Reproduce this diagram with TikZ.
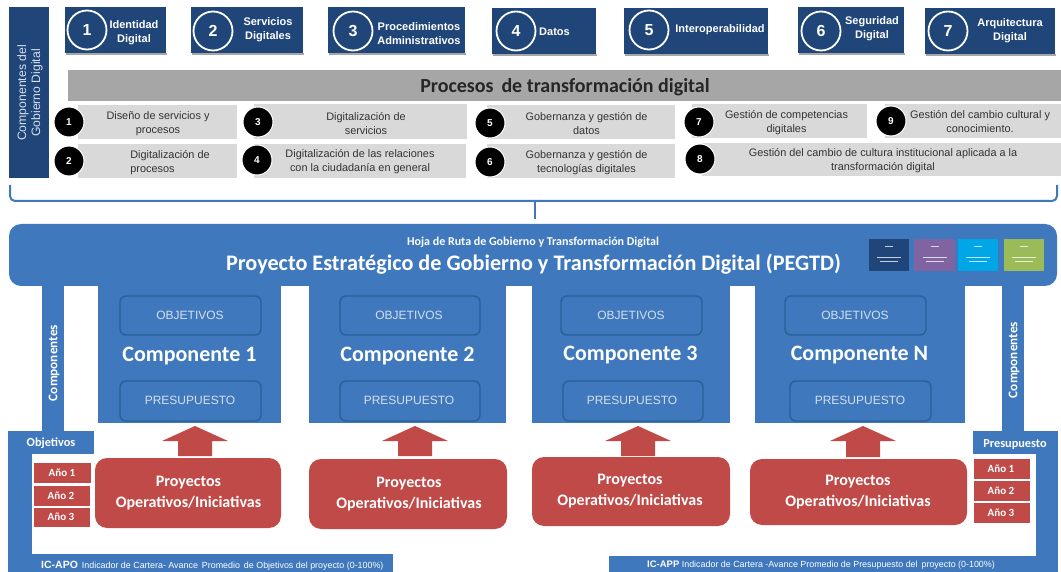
\documentclass[tikz,border=0pt]{standalone}
\usepackage{fontspec}
\setmainfont{Liberation Sans}
\newfontfamily\calfont{Carlito}
\definecolor{navy}{HTML}{1F4579}
\definecolor{midb}{HTML}{3F78BC}
\definecolor{edgeb}{HTML}{2C5F9A}
\definecolor{redb}{HTML}{BF4A47}
\definecolor{lgray}{HTML}{D9D9D9}
\definecolor{mgray}{HTML}{A6A6A6}
\definecolor{paleb}{HTML}{D5E0EE}
\definecolor{cardp}{HTML}{8064A2}
\definecolor{cardc}{HTML}{00A6E6}
\definecolor{cardg}{HTML}{9BBB59}
\tikzset{
 x=1pt,y=-1pt,
 ring/.style={circle,draw=white,line width=1.8pt,fill=navy,minimum size=39pt,inner sep=0pt,text=white,font=\fontsize{16}{16}\selectfont\bfseries},
 toplab/.style={text=white,font=\fontsize{11}{14}\selectfont\bfseries,align=center,inner sep=0pt},
 rowlab/.style={text=black!80,font=\fontsize{10.9}{14}\selectfont,align=center,inner sep=0pt},
 dotnode/.style={circle,fill=black,draw=white,line width=1pt,minimum size=30pt,inner sep=0pt,text=white,font=\fontsize{10}{10}\selectfont\bfseries},
 innerbox/.style={fill=midb,draw=edgeb,line width=1.4pt,rounded corners=6pt},
 innerlab/.style={text=paleb,font=\fontsize{12}{12}\selectfont,inner sep=0pt},
 comp/.style={text=white,font=\calfont\fontsize{22}{22}\selectfont\bfseries,inner sep=0pt},
 proj/.style={fill=redb,draw=none,rounded corners=12pt},
 projlab/.style={text=white,font=\calfont\fontsize{16}{21}\selectfont\bfseries,align=center,inner sep=0pt},
 yearlab/.style={text=white,font=\calfont\fontsize{11}{11}\selectfont\bfseries,inner sep=0pt},
 sidelab/.style={text=white,font=\calfont\fontsize{12.3}{12.3}\selectfont\bfseries,inner sep=0pt},
 vertlab/.style={text=white,rotate=90,font=\calfont\fontsize{13.2}{13.2}\selectfont\bfseries,inner sep=0pt},
 indlab/.style={text=white,font=\fontsize{8.9}{8.9}\selectfont,inner sep=0pt,anchor=west},
 minline/.style={white,opacity=.75,line width=.6pt},
}
\newcommand{\upar}[2]{\fill[redb] (#1,426) -- (#1+33,441) -- (#1+17,441) -- (#1+17,#2) -- (#1-17,#2) -- (#1-17,441) -- (#1-33,441) -- cycle;}
\begin{document}
\begin{tikzpicture}
\useasboundingbox (0,0) rectangle (1061,572);
% left header
\fill[navy] (9,7) rectangle (49,178);
\node[rotate=90,text=paleb,font=\fontsize{12.2}{14}\selectfont,align=center,inner sep=0pt] (hdr) at (30,93) {Componentes del\\Gobierno Digital};
% top boxes
\foreach \a/\b/\c/\d in {65/7/166/53,191/7/303/53,328/7/465/53,492/8/596/54,624/8/768/54,798/7/904/53,925/8/1055/54}{
 \fill[black!35] (\a+1,\d) rectangle (\c+1,\d+2);
 \fill[navy] (\a,\b) rectangle (\c,\d);
}
\node[ring] (c1) at (87,30) {1};
\node[ring] (c2) at (213,31) {2};
\node[ring] (c3) at (353,31) {3};
\node[ring] (c4) at (516,31) {4};
\node[ring] (c5) at (649,30) {5};
\node[ring] (c6) at (821,31) {6};
\node[ring] (c7) at (948,31) {7};
\node[toplab] (t1) at (134,33) {Identidad\\Digital};
\node[toplab] (t2) at (268,30) {Servicios\\Digitales};
\node[toplab] (t3) at (419,33.5) {Procedimientos\\Administrativos};
\node[toplab] (t4) at (554.5,32) {Datos};
\node[toplab] (t5) at (720,30) {Interoperabilidad};
\node[toplab] (t6) at (872,29) {Seguridad\\Digital};
\node[toplab] (t7) at (1010,31) {Arquitectura\\Digital};
% process bar
\fill[mgray] (68,70) rectangle (1061,101);
\node[text=black!85,font=\calfont\fontsize{20}{20}\selectfont\bfseries,inner sep=0pt] (ptitle) at (565,87) {Procesos\, de transformación digital};
\fill[lgray] (78,105) rectangle (237,139);
\fill[lgray] (254,104) rectangle (467,139);
\fill[lgray] (487,105) rectangle (675,139);
\fill[lgray] (692,104) rectangle (867,138);
\fill[lgray] (885,104) rectangle (1061,138);
\fill[lgray] (78,144) rectangle (237,178);
\fill[lgray] (254,144) rectangle (466,178);
\fill[lgray] (487,144) rectangle (675,178);
\fill[lgray] (702,143) rectangle (1061,176);
\node[dotnode] (d1) at (69,122) {1};
\node[dotnode] (d2) at (69,161) {2};
\node[dotnode] (d3) at (258,122) {3};
\node[dotnode] (d4) at (257,160) {4};
\node[dotnode] (d5) at (490,123) {5};
\node[dotnode] (d6) at (490,162) {6};
\node[dotnode] (d7) at (699,122) {7};
\node[dotnode] (d8) at (700,159) {8};
\node[dotnode] (d9) at (891,121) {9};
\node[rowlab] (r1) at (158,124) {Diseño de servicios y\\procesos};
\node[rowlab,align=left] (r2) at (170,163) {Digitalización de\\procesos};
\node[rowlab] (r3) at (366,123.5) {Digitalización de\\servicios};
\node[rowlab] (r4) at (360,162) {Digitalización de las relaciones\\con la ciudadanía en general};
\node[rowlab] (r5) at (586.5,124) {Gobernanza y gestión de\\datos};
\node[rowlab] (r6) at (586.5,163) {Gobernanza y gestión de\\tecnologías digitales};
\node[rowlab] (r7) at (786.5,123) {Gestión de competencias\\digitales};
\node[rowlab] (r8) at (883,161) {Gestión del cambio de cultura institucional aplicada a la\\transformación digital};
\node[rowlab] (r9) at (980,122) {Gestión del cambio cultural y\\conocimiento.};
% brace
\coordinate (bl) at (10,185);
\coordinate (br) at (1057,185);
\coordinate (bm) at (535,219);
\draw[midb,line width=2pt,rounded corners=5pt] (bl) -- (10,201) -- (1057,201) -- (br);
\draw[midb,line width=2pt] (535,201) -- (bm);
% main band and columns
\fill[midb] (42,280) rectangle (64,431);
\fill[midb] (1002,280) rectangle (1024,431);
\fill[midb] (98,280) rectangle (281,423);
\fill[midb] (309,280) rectangle (506,423);
\fill[midb] (532,280) rectangle (730,423);
\fill[midb] (755,280) rectangle (965,423);
\fill[midb,rounded corners=12pt] (9,224) rectangle (1057,286);
\node[text=white,font=\calfont\fontsize{12}{12}\selectfont\bfseries,inner sep=0pt] (hoja) at (533,242) {Hoja de Ruta de Gobierno y Transformación Digital};
\node[text=white,font=\calfont\fontsize{22.2}{22.2}\selectfont\bfseries,inner sep=0pt] (pegtd) at (533.5,264) {Proyecto Estratégico de Gobierno y Transformación Digital (PEGTD)};
% mini cards
\fill[navy] (869,239) rectangle (909,271);
\fill[cardp] (914,239) rectangle (955,271);
\fill[cardc] (958,239) rectangle (998,271);
\fill[cardg] (1004,239) rectangle (1044,271);
\foreach \cx in {889,934.5,978,1024}{
 \draw[minline] (\cx-4,246) -- (\cx+4,246);
 \draw[minline] (\cx-12,257) -- (\cx+12,257);
 \draw[minline] (\cx-9,261) -- (\cx+9,261);
}
% inner boxes
\draw[innerbox] (120,296) rectangle (261,335);
\draw[innerbox] (340,296) rectangle (480,335);
\draw[innerbox] (561,296) rectangle (702,335);
\draw[innerbox] (785,296) rectangle (926,335);
\draw[innerbox] (120,381) rectangle (261,421);
\draw[innerbox] (340,381) rectangle (480,421);
\draw[innerbox] (563,381) rectangle (703,421);
\draw[innerbox] (790,381) rectangle (931,421);
\foreach \n/\x in {a/190,b/409,c/631,d/855}{\node[innerlab] (o\n) at (\x,315) {OBJETIVOS};}
\foreach \n/\x in {a/190,b/409,c/632,d/860}{\node[innerlab] (p\n) at (\x,400) {PRESUPUESTO};}
\node[comp] (k1) at (189.5,356) {Componente 1};
\node[comp] (k2) at (407.5,356) {Componente 2};
\node[comp] (k3) at (630.5,355) {Componente 3};
\node[comp] (k4) at (859.5,355.5) {Componente N};
\node[vertlab] (sl) at (54,363) {Componentes};
\node[vertlab] (sr) at (1014,360) {Componentes};
% side frames
\fill[midb] (8,431) rectangle (94,454);
\fill[midb] (8,454) rectangle (32,572);
\fill[midb] (8,554) rectangle (393,572);
\fill[midb] (973,431) rectangle (1058,454);
\fill[midb] (1036,454) rectangle (1058,572);
\fill[midb] (609,556) rectangle (1058,572);
\node[sidelab] (ob) at (51,443) {Objetivos};
\node[sidelab] (pr) at (1015,444) {Presupuesto};
% arrows
\upar{195}{456}
\upar{415}{456}
\upar{638}{456}
\upar{863}{457}
% red
\fill[proj] (95,458) rectangle (281,528);
\fill[proj] (309,459) rectangle (507,529);
\fill[proj] (532,457) rectangle (730,526);
\fill[proj] (750,459) rectangle (967,525);
\node[projlab] (j1) at (188.5,493.5) {Proyectos\\Operativos/Iniciativas};
\node[projlab] (j2) at (409,494) {Proyectos\\Operativos/Iniciativas};
\node[projlab] (j3) at (630,491) {Proyectos\\Operativos/Iniciativas};
\node[projlab] (j4) at (858,492) {Proyectos\\Operativos/Iniciativas};
\fill[redb] (34,463) rectangle (91,483);
\fill[redb] (34,486) rectangle (90,506);
\fill[redb] (34,508) rectangle (90,527);
\fill[redb] (974,459) rectangle (1030,479);
\fill[redb] (974,481) rectangle (1030,501);
\fill[redb] (974,503) rectangle (1030,523);
\node[yearlab] (y1) at (62,473) {Año 1};
\node[yearlab] (y2) at (61,496) {Año 2};
\node[yearlab] (y3) at (61,517) {Año 3};
\node[yearlab] (y4) at (1001,469) {Año 1};
\node[yearlab] (y5) at (1001,491) {Año 2};
\node[yearlab] (y6) at (1001,513) {Año 3};
\node[indlab] (ia) at (41,565.5) {\textbf{\fontsize{10.5}{10.5}\selectfont IC-APO}\, Indicador de Cartera- Avance\, Promedio\, de Objetivos del proyecto (0-100\%)};
\node[indlab] (ib) at (647,565) {\textbf{\fontsize{9.5}{9.5}\selectfont IC-APP} Indicador de Cartera -Avance Promedio de Presupuesto del\, proyecto (0-100\%)};
\end{tikzpicture}
\end{document}
